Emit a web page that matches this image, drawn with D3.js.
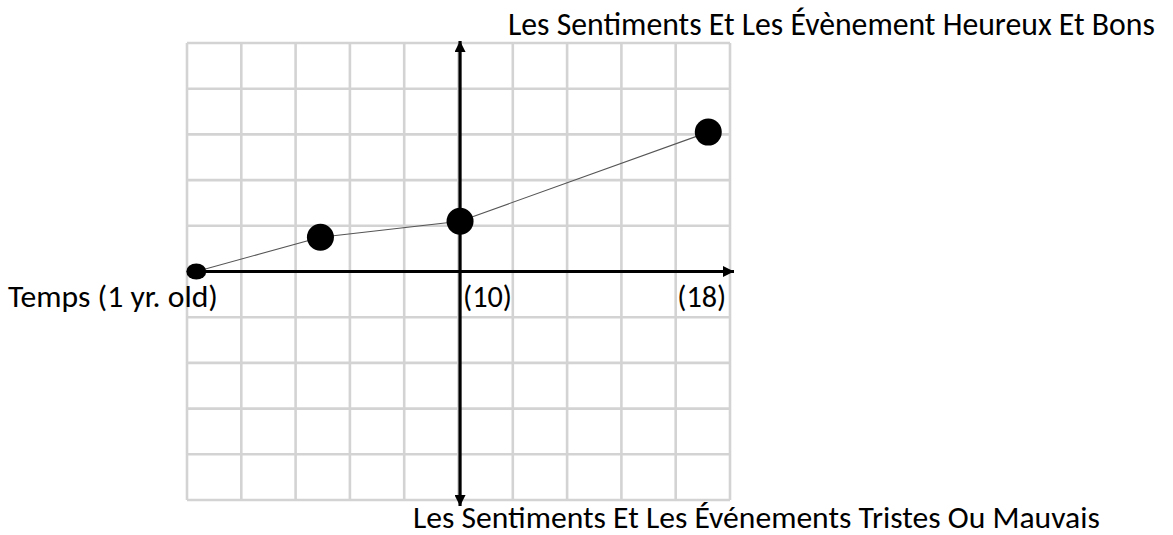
<!DOCTYPE html>
<html>
<head>
<meta charset="utf-8">
<script src="https://cdn.jsdelivr.net/npm/d3@7"></script>
<style>
  html, body { margin: 0; padding: 0; background: #fff; }
  svg { display: block; }
  text { font-family: Carlito, Lato, "Open Sans", sans-serif; fill: #000; }
</style>
</head>
<body>
<script>
// ---- data ----
const ages = [1.5, 5.5, 10, 18];          // time (years)
const feelings = [0, 0.75, 1.1, 3.05];     // feeling value (+ happy / - sad)
const xTickAges = [10, 18];
const xTickLabels = ["(10)", "(18)"];
const originLabel = "Temps (1 yr. old)";
const topLabel = "Les Sentiments Et Les Évènement Heureux Et Bons";
const bottomLabel = "Les Sentiments Et Les Événements Tristes Ou Mauvais";
const gridCols = 10, gridRows = 10;

(function () {
const W = 1173, H = 535;
const svg = d3.select("body").append("svg").attr("width", W).attr("height", H);

const pL = 187, pR = 730, pT = 43, pB = 500;
const x = d3.scaleLinear().domain([1.2, 18.7]).range([pL, pR]);
const y = d3.scaleLinear().domain([-5, 5]).range([pB, pT]);
const gx = d3.scaleLinear().domain([0, gridCols]).range([pL, pR]);
const gy = d3.scaleLinear().domain([0, gridRows]).range([pT, pB]);

// grid
const grid = svg.append("g").attr("stroke", "#d3d3d3").attr("stroke-width", 2.6).attr("fill", "none");
grid.selectAll("line.v").data(d3.range(gridCols + 1)).join("line").attr("class", "v")
  .attr("x1", d => gx(d)).attr("x2", d => gx(d)).attr("y1", pT).attr("y2", pB);
grid.selectAll("line.h").data(d3.range(gridRows + 1)).join("line").attr("class", "h")
  .attr("y1", d => gy(d)).attr("y2", d => gy(d)).attr("x1", pL).attr("x2", pR);

// arrow markers
const defs = svg.append("defs");
defs.append("marker").attr("id", "arr").attr("viewBox", "0 0 10 10")
  .attr("refX", 10).attr("refY", 5).attr("markerWidth", 11).attr("markerHeight", 11)
  .attr("markerUnits", "userSpaceOnUse").attr("orient", "auto-start-reverse")
  .append("path").attr("d", "M0,0 L10,5 L0,10 Z").attr("fill", "#000");

const x0 = x(10), y0 = y(0);
// horizontal axis
svg.append("line").attr("x1", pL).attr("x2", 734).attr("y1", y0).attr("y2", y0)
  .attr("stroke", "#000").attr("stroke-width", 3.2).attr("marker-end", "url(#arr)");
// vertical axis
svg.append("line").attr("x1", x0).attr("x2", x0).attr("y1", 41).attr("y2", 506)
  .attr("stroke", "#000").attr("stroke-width", 3.2)
  .attr("marker-start", "url(#arr)").attr("marker-end", "url(#arr)");

// data line
const pts = ages.map((a, i) => [a, feelings[i]]);
svg.append("path").datum(pts)
  .attr("d", d3.line().x(d => x(d[0])).y(d => y(d[1])))
  .attr("fill", "none").attr("stroke", "#555").attr("stroke-width", 1.1);

// points
svg.selectAll("ellipse.pt").data(pts).join("ellipse").attr("class", "pt")
  .attr("cx", d => x(d[0])).attr("cy", d => y(d[1]))
  .attr("rx", (d, i) => i === 0 ? 10 : 13.5)
  .attr("ry", (d, i) => i === 0 ? 8 : 13.5)
  .attr("fill", "#000");

// text helper fitting width
function fitText(str, xStart, baseline, targetW, size) {
  const t = svg.append("text").attr("x", xStart).attr("y", baseline)
    .attr("font-size", size).text(str);
  const w = t.node().getComputedTextLength();
  if (w > 0) t.attr("font-size", size * targetW / w);
  return t;
}

fitText(topLabel, 508, 35, 647, 26);
fitText(bottomLabel, 413, 528, 687, 26);
fitText(originLabel, 8, 307, 210, 26);
xTickAges.forEach((a, i) => {
  fitText(xTickLabels[i], x(a) + (i === 0 ? 3 : -31), 307, 49, 26);
});
})();
</script>
</body>
</html>
